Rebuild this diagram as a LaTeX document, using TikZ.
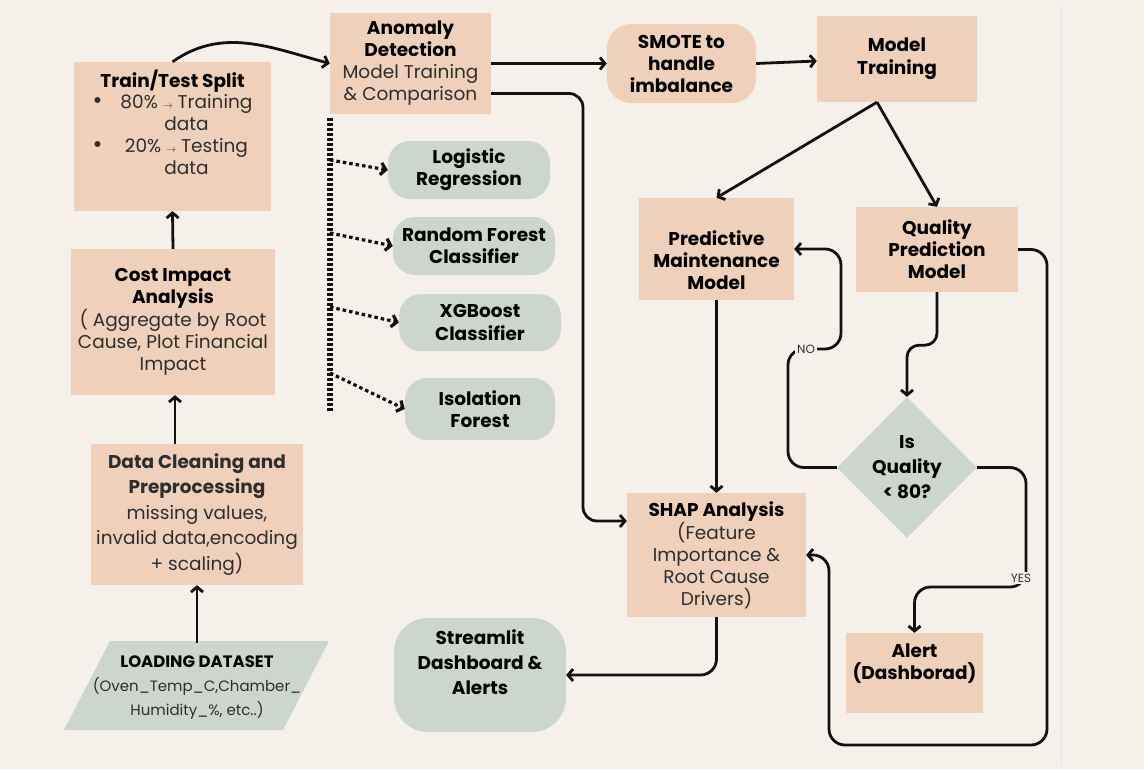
\documentclass[tikz,border=0pt]{standalone}
\usepackage{fontspec}
\setmainfont{Poppins}
\usetikzlibrary{arrows.meta,shapes.geometric,calc}

\definecolor{bgcream}{HTML}{F6F0EB}
\definecolor{peach}{HTML}{EFD0BA}
\definecolor{sage}{HTML}{CDD6CD}
\definecolor{bodyink}{HTML}{2E2E2E}
\definecolor{lineink}{HTML}{111111}
\definecolor{edgeline}{HTML}{E6E4E8}

\newcommand{\smallarr}{{\fontsize{10}{10}\selectfont$\rightarrow$}}
\newcommand{\bigdot}{{\fontsize{24}{22}\selectfont\textbullet}}
\newcommand{\hd}[1]{\textcolor{black}{\textbf{#1}}}

\tikzset{
  peachbox/.style={fill=peach, inner sep=2pt, align=center, text=bodyink,
    font=\fontsize{18.5}{22}\selectfont},
  sagepill/.style={peachbox, fill=sage, rounded corners=22pt, text=black},
  flow/.style={draw=lineink, line width=2.8pt, -{Straight Barb[length=5pt,width=12pt]}},
  dotflow/.style={flow, line width=3.2pt, dash pattern=on 3.5pt off 3pt},
  tag/.style={fill=bgcream, inner sep=2pt, font=\fontsize{12}{14}\selectfont, text=bodyink}
}

\begin{document}
\begin{tikzpicture}[x=1pt,y=-1pt]
\fill[bgcream] (0,0) rectangle (1144,769);
\useasboundingbox (0,0) rectangle (1144,769);
\draw[line width=1pt, draw=edgeline] (1061,4) -- (1061,765); %faint edge

%%%%%%%%%%%%%%%%%%%%%%%%%%%%%%%% left column
\fill[sage] (64,730) -- (110,641) -- (329,641) -- (283,730) -- cycle; %parallelogram
\node[peachbox, fill=none, minimum height=89pt, font=\fontsize{15}{24}\selectfont] (load) at (197,688)
  {{\fontsize{16.5}{24}\selectfont\hd{LOADING DATASET}}\\(Oven\_Temp\_C,Chamber\_\\Humidity\_\%, etc..)};
\node[peachbox, minimum width=212pt, minimum height=141pt, font=\fontsize{18.5}{25.5}\selectfont] (clean) at (197,514.5)
  {\textbf{Data Cleaning and}\\\textbf{Preprocessing}\\missing values,\\invalid data,encoding\\+ scaling)};
\node[peachbox, minimum width=204pt, minimum height=146pt] (cost) at (173,322)
  {\hd{Cost Impact}\\\hd{Analysis}\\( Aggregate by Root\\Cause, Plot Financial\\Impact};
\node[peachbox, minimum width=197pt, minimum height=149pt] (split) at (172.5,136.5)
  {\hd{Train/Test Split}\\
   \begin{tabular}{@{}c@{\hspace{18pt}}c@{}}
   \bigdot & 80\% \smallarr{} Training\\ & data\\
   \bigdot & 20\% \smallarr{} Testing\\ & data\\ & \mbox{}
   \end{tabular}};

%%%%%%%%%%%%%%%%%%%%%%%%%%%%%%%% middle column
\node[peachbox, minimum width=161pt, minimum height=101pt] (anom) at (410.5,63.5)
  {\hd{Anomaly}\\\hd{Detection}\\Model Training\\\& Comparison};
\node[sagepill, minimum width=162pt, minimum height=58pt] (logreg) at (469,170) {\textbf{Logistic}\\\textbf{Regression}};
\node[sagepill, minimum width=162pt, minimum height=58pt] (rforest) at (474,246) {\textbf{Random Forest}\\\textbf{Classifier}};
\node[sagepill, minimum width=162pt, minimum height=57pt] (xgb) at (480,322.5) {\textbf{XGBoost}\\\textbf{Classifier}};
\node[sagepill, minimum width=150pt, minimum height=62pt] (iso) at (480,409) {\textbf{Isolation}\\\textbf{Forest}};
\node[sagepill, minimum width=172pt, minimum height=114pt, rounded corners=34pt, font=\fontsize{18.5}{25}\selectfont] (stream) at (480,675)
  {\textbf{Streamlit}\\\textbf{Dashboard \&}\\\textbf{Alerts}\\\mbox{}};

%%%%%%%%%%%%%%%%%%%%%%%%%%%%%%%% right part
\node[peachbox, rounded corners=24pt, minimum width=149pt, minimum height=79pt, text=black] (smote) at (681.5,63.5)
  {\textbf{SMOTE to}\\\textbf{handle}\\\textbf{imbalance}};
\node[peachbox, minimum width=160pt, minimum height=86pt, text=black, font=\fontsize{18.5}{23}\selectfont] (train) at (897,59)
  {\textbf{Model}\\\textbf{Training}};
\node[peachbox, minimum width=155pt, minimum height=102pt, text=black] (pred) at (716.5,249)
  {\strut\\\textbf{Predictive}\\\textbf{Maintenance}\\\textbf{Model}};
\node[peachbox, minimum width=162pt, minimum height=85pt, text=black] (qual) at (937,249.5)
  {\textbf{Quality}\\\textbf{Prediction}\\\textbf{Model}};
\node[diamond, fill=sage, inner sep=0pt, minimum width=140pt, minimum height=141pt, align=center,
  font=\fontsize{18.5}{25}\selectfont\bfseries] (dia) at (907,467.5) {Is\\Quality\\< 80?};
\node[peachbox, minimum width=179pt, minimum height=124pt] (shap) at (716.5,555)
  {\hd{SHAP Analysis}\\(Feature\\Importance \&\\Root Cause\\Drivers)};
\node[peachbox, minimum width=137pt, minimum height=80pt, text=black] (alert) at (914.5,673)
  {\textbf{Alert}\\\textbf{(Dashborad)}\\\mbox{}};

%%%%%%%%%%%%%%%%%%%%%%%%%%%%%%%% connectors
\draw[flow] (load.north) -- (clean.south);
\draw[flow] ($(clean.north)+(-22,0)$) -- ($(cost.south)+(2,0)$);
\draw[flow] (cost.north) -- (split.south);
\draw[flow] (split.north) to[out=35,in=165] (anom.west);

\draw[flow] (anom.east) -- (smote.west);
\draw[flow] (smote.east) -- ($(train.west)+(0,2)$);
\draw[flow, rounded corners=14pt] ($(anom.east)+(0,30)$) -- (583,93.5) -- (583,521) -- ($(shap.west)+(0,-34)$); %to SHAP

\coordinate (bustop) at (330,118);
\coordinate (busend) at (330,412);
\draw[draw=lineink, line width=6pt, dash pattern=on 3pt off 2pt] (bustop) -- (busend);
\coordinate (b1) at (330,160);
\coordinate (b2) at (330,233);
\coordinate (b3) at (330,307);
\coordinate (b4) at (330,373);
\draw[dotflow] (b1) -- (logreg.west);
\draw[dotflow] (b2) -- (rforest.west);
\draw[dotflow] (b3) -- (xgb.west);
\draw[dotflow] (b4) -- (iso.west);

\coordinate (fork) at ($(train.south)+(-20,0)$);
\draw[flow] (fork) -- (pred.north);
\draw[flow] (fork) -- (qual.north);
\draw[flow] (pred.south) -- (shap.north);
\draw[flow, rounded corners=12pt] (qual.south) -- ++(0,53) -| (dia.north);

\draw[flow, rounded corners=16pt] (dia.west) -| (788,349) -- (841,349) -- (841,249) -- (pred.east); %NO loop
\node[tag] (nolab) at (806,349) {NO};
\draw[flow, rounded corners=16pt] (dia.east) -| (1026,587) -| (alert.north); %YES branch
\node[tag] (yeslab) at (1021,578) {YES};

\draw[flow, rounded corners=16pt] (qual.east) -| (1047,745) -| (829,555) -- (shap.east); %outer loop
\draw[flow, rounded corners=16pt] (shap.south) |- (stream.east);
\end{tikzpicture}
\end{document}
